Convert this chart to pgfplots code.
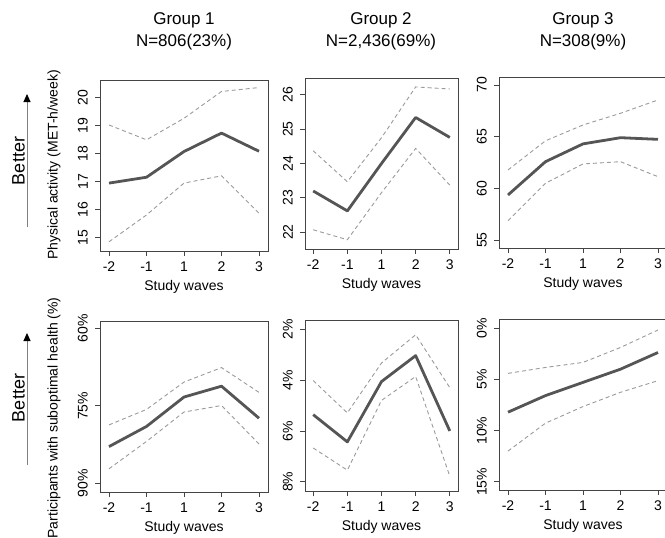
\documentclass[border=0pt]{standalone}
\usepackage{fontspec}
\setmainfont{Liberation Sans}
\usepackage{pgfplots}
\usepackage{pgfplotstable}
\pgfplotsset{compat=1.18}
\usetikzlibrary{arrows.meta}

\definecolor{meancol}{HTML}{555555}
\definecolor{cicol}{HTML}{9A9A9A}
\definecolor{boxcol}{HTML}{444444}
\newcommand{\fs}[1]{\fontsize{#1}{#1}\selectfont}

% top row: physical activity
\pgfplotstableread{
x m u l
0 16.94 19.02 14.84
1 17.15 18.49 15.80
2 18.07 19.26 16.94
3 18.73 20.22 17.20
4 18.08 20.36 15.86
}\tA
\pgfplotstableread{
x m u l
0 23.20 24.37 22.07
1 22.62 23.47 21.78
2 24.00 24.75 23.15
3 25.34 26.23 24.44
4 24.76 26.17 23.37
}\tB
\pgfplotstableread{
x m u l
0 59.36 61.78 56.87
1 62.58 64.60 60.49
2 64.30 66.13 62.36
3 64.90 67.26 62.58
4 64.74 68.55 61.13
}\tC
% bottom row: suboptimal health (%)
\pgfplotstableread{
x m u l
0 82.9 78.7 87.2
1 79.0 75.7 81.9
2 73.3 70.4 76.2
3 71.2 67.6 74.95
4 77.4 72.4 82.4
}\tD
\pgfplotstableread{
x m u l
0 5.36 4.02 6.67
1 6.43 5.29 7.54
2 4.06 3.33 4.80
3 3.04 2.22 3.86
4 6.00 4.30 7.78
}\tE
\pgfplotstableread{
x m u l
0 8.20 4.41 12.00
1 6.58 3.83 9.27
2 5.29 3.34 7.65
3 4.00 1.88 6.26
4 2.37 0.17 5.12
}\tF

\pgfplotsset{
  panel/.style={
    scale only axis, height=171pt,
    xmin=-0.24, xmax=4.24,
    xtick={0,1,2,3,4}, xticklabels={-2,-1,1,2,3},
    xtick pos=bottom, ytick pos=left,
    tick align=outside, major tick length=5pt,
    axis line style={boxcol, line width=0.9pt},
    every tick/.style={boxcol, line width=0.9pt},
    tick label style={font=\fs{14}},
    xticklabel style={anchor=north, inner sep=0pt},
    yticklabel style={rotate=90, anchor=south, inner sep=0pt},
    xticklabel shift=6pt, yticklabel shift=7pt,
    xlabel={Study waves},
    xlabel style={font=\fs{14}, at={(axis description cs:0.5,0)}, anchor=center, yshift=-36pt},
  },
  meanl/.style={meancol, line width=2.8pt, line join=round},
  cil/.style={cicol, line width=0.9pt, dash pattern=on 4pt off 3pt},
}

\begin{document}
\begin{tikzpicture}
\useasboundingbox (0,0) rectangle (665pt,-538pt);

% titles
\node[font=\fs{17}] at (184pt,-20pt) {Group 1};
\node[font=\fs{17}] at (184pt,-42pt) {N=806(23\%)};
\node[font=\fs{17}] at (381pt,-20pt) {Group 2};
\node[font=\fs{17}] at (381pt,-42pt) {N=2,436(69\%)};
\node[font=\fs{17}] at (583pt,-20pt) {Group 3};
\node[font=\fs{17}] at (583pt,-42pt) {N=308(9\%)};

% Better arrows
\node[font=\fs{18}, rotate=90] at (18.5pt,-161pt) {Better};
\draw[gray, line width=1pt, -{Triangle[black,length=8pt,width=7pt]}] (27pt,-227pt) -- (27pt,-94pt);
\node[font=\fs{18}, rotate=90] at (18.5pt,-398pt) {Better};
\draw[gray, line width=1pt, -{Triangle[black,length=8pt,width=7pt]}] (27pt,-465pt) -- (27pt,-333pt);

% y labels
\node[font=\fs{14}, rotate=90] at (54pt,-165pt) {Physical activity (MET-h/week)};
\node[font=\fs{14}, rotate=90] at (54pt,-418pt) {Participants with suboptimal health (\%)};

% top row
\begin{axis}[panel, width=168pt, at={(100pt,-251pt)}, anchor=south west,
  ymin=14.51, ymax=20.63, ytick={15,16,17,18,19,20}, yticklabels={15,16,17,18,19,20}]
\addplot[cil] table[x=x,y=u]{\tA};
\addplot[cil] table[x=x,y=l]{\tA};
\addplot[meanl] table[x=x,y=m]{\tA};
\end{axis}
\begin{axis}[panel, width=153pt, at={(305pt,-249pt)}, anchor=south west,
  ymin=21.51, ymax=26.49, ytick={22,23,24,25,26}, yticklabels={22,23,24,25,26}]
\addplot[cil] table[x=x,y=u]{\tB};
\addplot[cil] table[x=x,y=l]{\tB};
\addplot[meanl] table[x=x,y=m]{\tB};
\end{axis}
\begin{axis}[panel, width=168pt, at={(499pt,-248pt)}, anchor=south west,
  ymin=54.23, ymax=70.77, ytick={55,60,65,70}, yticklabels={55,60,65,70}]
\addplot[cil] table[x=x,y=u]{\tC};
\addplot[cil] table[x=x,y=l]{\tC};
\addplot[meanl] table[x=x,y=m]{\tC};
\end{axis}

% bottom row
\begin{axis}[panel, width=168pt, at={(100pt,-492pt)}, anchor=south west, y dir=reverse,
  ymin=58.57, ymax=91.7, ytick={60,75,90}, yticklabels={60\%,75\%,90\%}]
\addplot[cil] table[x=x,y=u]{\tD};
\addplot[cil] table[x=x,y=l]{\tD};
\addplot[meanl] table[x=x,y=m]{\tD};
\end{axis}
\begin{axis}[panel, width=153pt, at={(305pt,-491pt)}, anchor=south west, y dir=reverse,
  ymin=1.64, ymax=8.36, ytick={2,4,6,8}, yticklabels={2\%,4\%,6\%,8\%}]
\addplot[cil] table[x=x,y=u]{\tE};
\addplot[cil] table[x=x,y=l]{\tE};
\addplot[meanl] table[x=x,y=m]{\tE};
\end{axis}
\begin{axis}[panel, width=168pt, at={(499pt,-490pt)}, anchor=south west, y dir=reverse,
  ymin=-0.9, ymax=15.8, ytick={0,5,10,15}, yticklabels={0\%,5\%,10\%,15\%}]
\addplot[cil] table[x=x,y=u]{\tF};
\addplot[cil] table[x=x,y=l]{\tF};
\addplot[meanl] table[x=x,y=m]{\tF};
\end{axis}
\end{tikzpicture}
\end{document}
